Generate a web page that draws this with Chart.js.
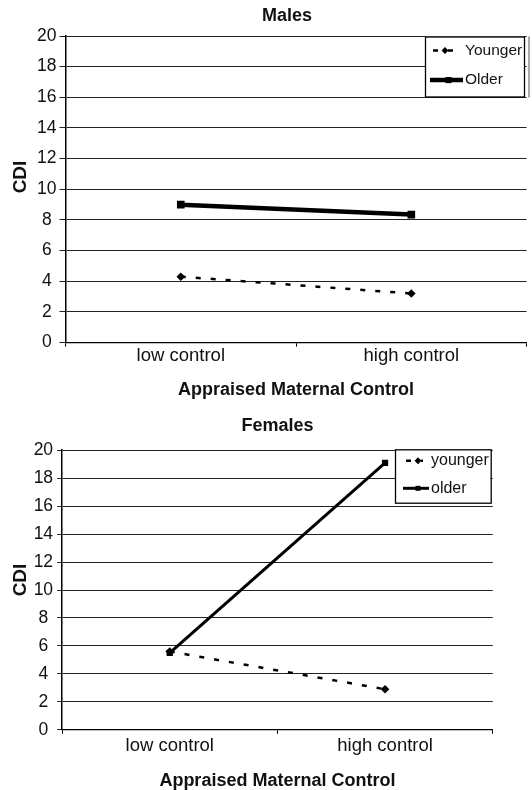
<!DOCTYPE html>
<html>
<head>
<meta charset="utf-8">
<title>CDI by appraised maternal control</title>
<script src="https://cdn.jsdelivr.net/npm/chart.js@4.4.1/dist/chart.umd.min.js"></script>
<style>
  html, body { margin: 0; padding: 0; background: #fff; overflow: hidden; }
  .panel { position: absolute; left: 0; }
  #malesPanel { top: 0; }
  #femalesPanel { top: 400px; }
</style>
</head>
<body>
<div class="panel" id="malesPanel"><canvas id="malesChart" width="532" height="400"></canvas></div>
<div class="panel" id="femalesPanel"><canvas id="femalesChart" width="532" height="390"></canvas></div>
<script>
// values
const categories = ['low control', 'high control'];
const cdiTicks = [0, 2, 4, 6, 8, 10, 12, 14, 16, 18, 20];
const maleYounger = [4.3, 3.2];
const maleOlder = [9.0, 8.35];
const femaleYounger = [5.6, 2.9];
const femaleOlder = [5.5, 19.1];

const FONT = "'Liberation Sans', Arial, sans-serif";
const INK = '#111';

// chart title, rotated y title and the boxed legend (Excel style)
const panelDecor = {
    id: 'panelDecor',
    afterDraw(chart, args, opts) {
        const ctx = chart.ctx;
        ctx.save();
        ctx.fillStyle = INK;
        ctx.textAlign = 'center';
        ctx.textBaseline = 'middle';
        ctx.font = 'bold 18px ' + FONT;
        ctx.fillText(opts.title, opts.titleX, opts.titleY);

        ctx.save();
        ctx.translate(opts.yTitleX, opts.yTitleY);
        ctx.rotate(-Math.PI / 2);
        ctx.font = 'bold 19px ' + FONT;
        ctx.fillText(opts.yTitle, 0, 0);
        ctx.restore();

        const b = opts.legendBox;
        if (opts.shadow) {
            ctx.fillStyle = '#aaa';
            ctx.fillRect(b.left + b.width + 4, b.top, 2, b.height + 1);
        }
        ctx.fillStyle = '#fff';
        ctx.fillRect(b.left, b.top, b.width, b.height);
        ctx.strokeStyle = '#000';
        ctx.lineWidth = 1.3;
        ctx.strokeRect(b.left + 0.5, b.top + 0.5, b.width, b.height);

        chart.data.datasets.forEach(function(ds, i) {
            const y = b.top + opts.rows[i];
            const x0 = b.left + opts.symLeft;
            const x1 = x0 + opts.symWidth;
            ctx.strokeStyle = ds.borderColor;
            ctx.lineWidth = ds.borderWidth;
            ctx.setLineDash(ds.borderDash || []);
            ctx.lineDashOffset = 12;
            ctx.beginPath();
            ctx.moveTo(x0, y);
            ctx.lineTo(ds.borderDash ? x1 - 6 : x1, y);
            ctx.stroke();
            ctx.setLineDash([]);
            ctx.fillStyle = ds.pointBackgroundColor;
            Chart.helpers.drawPoint(ctx, {
                pointStyle: ds.pointStyle,
                radius: ds.pointRadius * 0.8,
                rotation: 0,
                borderWidth: 0
            }, ds.borderDash ? x0 + 15 : (x0 + x1) / 2 + 2, y);
            ctx.fillStyle = INK;
            ctx.textAlign = 'left';
            ctx.font = opts.fontSize + 'px ' + FONT;
            ctx.fillText(ds.label, x1 + 2, y);
        });
        ctx.restore();
    }
};

function makePanel(canvasId, cfg) {
    const ctx = document.getElementById(canvasId).getContext('2d');
    return new Chart(ctx, {
        type: 'line',
        data: {
            labels: categories,
            datasets: [{
                label: cfg.youngLabel,
                data: cfg.younger,
                borderColor: '#000',
                borderWidth: 2.5,
                borderDash: [5, 10],
                pointStyle: 'rectRot',
                pointRadius: cfg.youngRadius,
                pointBackgroundColor: '#000',
                pointBorderColor: '#000',
                pointBorderWidth: 0,
                tension: 0
            }, {
                label: cfg.oldLabel,
                data: cfg.older,
                borderColor: '#000',
                borderWidth: cfg.oldWidth,
                pointStyle: 'rect',
                pointRadius: cfg.oldRadius,
                pointBackgroundColor: '#000',
                pointBorderColor: '#000',
                pointBorderWidth: 0,
                tension: 0
            }]
        },
        options: {
            responsive: false,
            animation: false,
            layout: {
                padding: { top: cfg.top, right: cfg.right, left: 0, bottom: 0 }
            },
            plugins: {
                legend: { display: false },
                title: { display: false },
                tooltip: { enabled: false },
                panelDecor: cfg.decor
            },
            scales: {
                x: {
                    offset: true,
                    grid: { offset: true, drawOnChartArea: false, tickLength: 4, color: '#000' },
                    border: { color: '#000', width: 1.3 },
                    ticks: {
                        color: INK,
                        padding: cfg.xPad,
                        font: { family: FONT, size: 18.5, lineHeight: 1 }
                    },
                    title: {
                        display: true,
                        text: 'Appraised Maternal Control',
                        color: INK,
                        font: { family: FONT, size: 18, weight: 'bold', lineHeight: 1 },
                        padding: { top: 0, bottom: cfg.xTitlePad }
                    },
                    afterFit: function(scale) { scale.height = cfg.xHeight; }
                },
                y: {
                    min: cdiTicks[0],
                    max: cdiTicks[cdiTicks.length - 1],
                    grid: { color: '#222', lineWidth: 1, tickLength: cfg.yTick },
                    border: { color: '#000', width: 1.5 },
                    ticks: {
                        stepSize: cdiTicks[1] - cdiTicks[0],
                        color: INK,
                        crossAlign: 'center',
                        padding: cfg.yPad,
                        font: { family: FONT, size: 17.5 }
                    },
                    afterFit: function(scale) { scale.width = cfg.yWidth; }
                }
            }
        },
        plugins: [panelDecor]
    });
}

makePanel('malesChart', {
    youngLabel: 'Younger', oldLabel: 'Older',
    younger: maleYounger, older: maleOlder,
    youngRadius: 4.3, oldRadius: 5.4, oldWidth: 4.5,
    top: 36, right: 1, yWidth: 65.5, xHeight: 57.4, xPad: 0, xTitlePad: 1,
    yTick: 6, yPad: 3,
    decor: {
        title: 'Males', titleX: 287, titleY: 16,
        yTitle: 'CDI', yTitleX: 20.5, yTitleY: 177,
        legendBox: { left: 425, top: 36.5, width: 99, height: 60 },
        shadow: true, rows: [14, 43.6], symLeft: 5, symWidth: 33, fontSize: 15.5
    }
});

makePanel('femalesChart', {
    youngLabel: 'younger', oldLabel: 'older',
    younger: femaleYounger, older: femaleOlder,
    youngRadius: 4.3, oldRadius: 4.4, oldWidth: 3,
    top: 50.2, right: 39.3, yWidth: 62.1, xHeight: 60.2, xPad: 2.6, xTitlePad: 0,
    yTick: 5, yPad: 4,
    decor: {
        title: 'Females', titleX: 277.5, titleY: 26.5,
        yTitle: 'CDI', yTitleX: 21, yTitleY: 180,
        legendBox: { left: 395, top: 449.3 - 400, width: 95.7, height: 53.4 },
        shadow: false, rows: [11.4, 39], symLeft: 8, symWidth: 26, fontSize: 16
    }
});
</script>
</body>
</html>
